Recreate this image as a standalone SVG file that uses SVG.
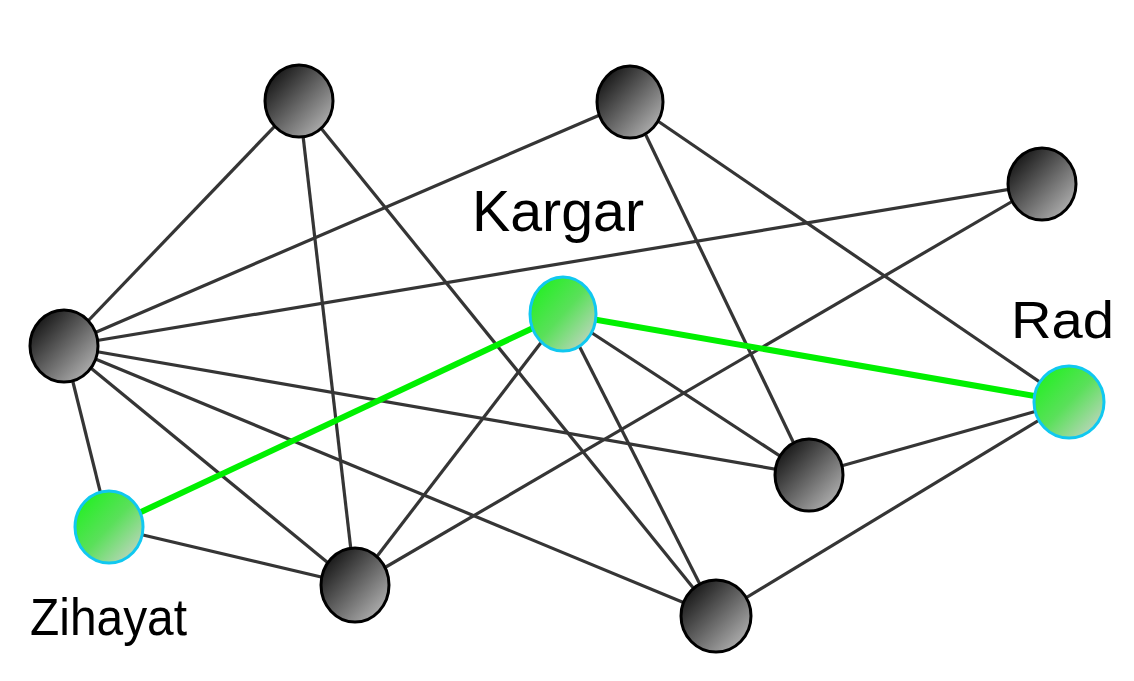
<svg xmlns="http://www.w3.org/2000/svg" width="1134" height="681" viewBox="0 0 1134 681">
<defs>
<linearGradient id="gDark" x1="0.15" y1="0.15" x2="0.85" y2="0.85">
<stop offset="0" stop-color="#1c1c1c"/>
<stop offset="1" stop-color="#a8a8a8"/>
</linearGradient>
<linearGradient id="gGreen" x1="0.15" y1="0.15" x2="0.85" y2="0.85">
<stop offset="0" stop-color="#2aee2a"/>
<stop offset="0.5" stop-color="#5ae05a"/>
<stop offset="1" stop-color="#b2d6b2"/>
</linearGradient>
</defs>
<style>
.e{stroke:#353535;stroke-width:3.2;fill:none}
.g{stroke:#00f000;stroke-width:6;fill:none}
.dn{fill:url(#gDark);stroke:#000;stroke-width:3}
.gn{fill:url(#gGreen);stroke:#10c8f0;stroke-width:3}
.lb{font-family:"Liberation Sans",Arial,sans-serif;fill:#000}
</style>
<rect width="1134" height="681" fill="#fff"/>
<g id="connectors">
<line class="e" x1="299" y1="101" x2="64" y2="346"/>
<line class="e" x1="299" y1="101" x2="355" y2="585"/>
<line class="e" x1="299" y1="101" x2="716" y2="616"/>
<line class="e" x1="630" y1="102" x2="64" y2="346"/>
<line class="e" x1="630" y1="102" x2="809" y2="475"/>
<line class="e" x1="630" y1="102" x2="1069" y2="402"/>
<line class="e" x1="1042" y1="184" x2="64" y2="346"/>
<line class="e" x1="1042" y1="184" x2="355" y2="585"/>
<line class="e" x1="64" y1="346" x2="809" y2="475"/>
<line class="e" x1="64" y1="346" x2="716" y2="616"/>
<line class="e" x1="64" y1="346" x2="355" y2="585"/>
<line class="e" x1="64" y1="346" x2="109" y2="527"/>
<line class="e" x1="563" y1="314" x2="355" y2="585"/>
<line class="e" x1="563" y1="314" x2="716" y2="616"/>
<line class="e" x1="563" y1="314" x2="809" y2="475"/>
<line class="e" x1="1069" y1="402" x2="809" y2="475"/>
<line class="e" x1="1069" y1="402" x2="716" y2="616"/>
<line class="e" x1="109" y1="527" x2="355" y2="585"/>
<line class="g" x1="563" y1="314" x2="109" y2="527"/>
<line class="g" x1="563" y1="314" x2="1069" y2="402"/>
</g>
<g id="n1"><ellipse class="dn" cx="299" cy="101" rx="34" ry="36"/></g>
<g id="n2"><ellipse class="dn" cx="630" cy="102" rx="33" ry="36"/></g>
<g id="n3"><ellipse class="dn" cx="1042" cy="184" rx="34" ry="36"/></g>
<g id="n4"><ellipse class="dn" cx="64" cy="346" rx="34" ry="36"/></g>
<g id="kargar"><ellipse class="gn" cx="563" cy="314" rx="33" ry="37"/><text class="lb" x="472" y="231" font-size="58" textLength="172" lengthAdjust="spacingAndGlyphs">Kargar</text></g>
<g id="rad"><ellipse class="gn" cx="1069" cy="402" rx="35" ry="36"/><text class="lb" x="1011" y="338" font-size="52" textLength="103" lengthAdjust="spacingAndGlyphs">Rad</text></g>
<g id="n7"><ellipse class="dn" cx="809" cy="475" rx="34" ry="36"/></g>
<g id="zihayat"><ellipse class="gn" cx="109" cy="527" rx="34" ry="36"/><text class="lb" x="30" y="635" font-size="52" textLength="157" lengthAdjust="spacingAndGlyphs">Zihayat</text></g>
<g id="n9"><ellipse class="dn" cx="355" cy="585" rx="34" ry="37"/></g>
<g id="n10"><ellipse class="dn" cx="716" cy="616" rx="35" ry="36"/></g>
</svg>
